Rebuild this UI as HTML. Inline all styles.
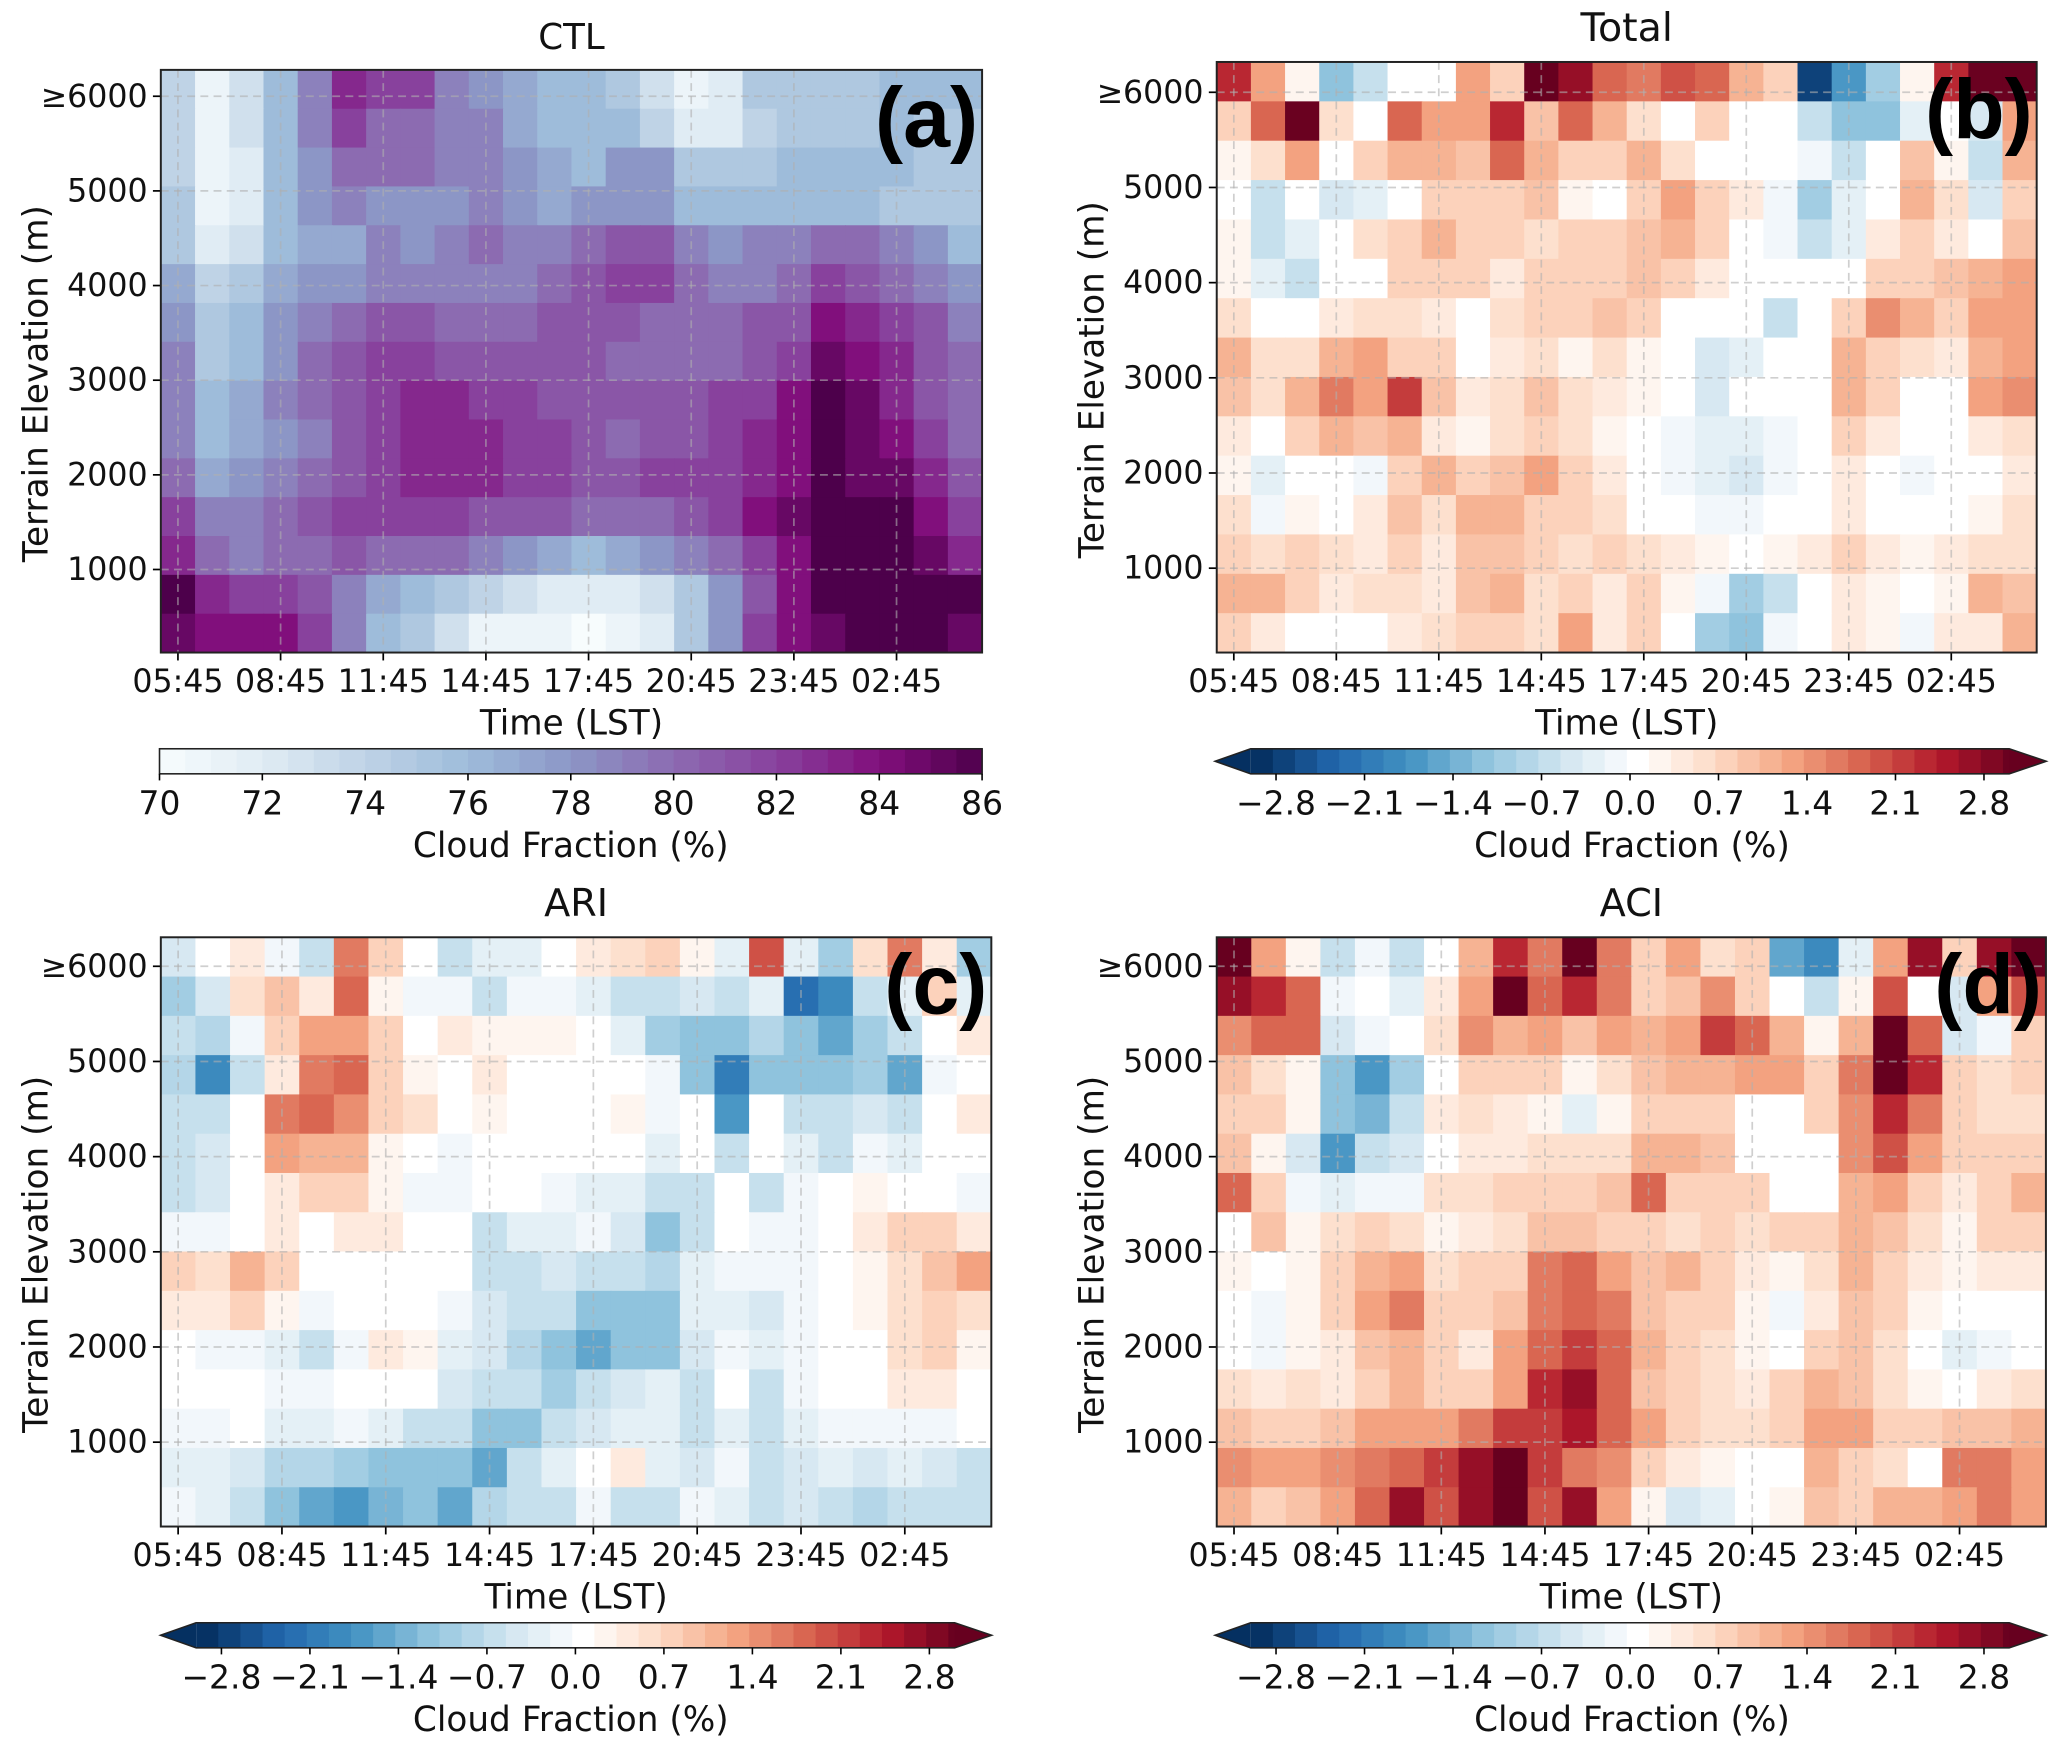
<!DOCTYPE html>
<html><head><meta charset="utf-8"><style>
html,body{margin:0;padding:0;background:#fff;}
svg{display:block;font-family:"DejaVu Sans","Liberation Sans",sans-serif;}
</style></head><body>
<svg id="fig" width="2067" height="1755" viewBox="0 0 1568 1331.3" xmlns="http://www.w3.org/2000/svg"></svg>
<script>
const timeLabels = ["05:45","08:45","11:45","14:45","17:45","20:45","23:45","02:45"];
const elevTickLabels = ["≥6000","5000","4000","3000","2000","1000"];
const elevTickValues = [6000,5000,4000,3000,2000,1000];
const ctlTicks = [70,72,74,76,78,80,82,84,86];
const diffTicks = [-2.8,-2.1,-1.4,-0.7,0.0,0.7,1.4,2.1,2.8];
const diffTickLabels = ["−2.8","−2.1","−1.4","−0.7","0.0","0.7","1.4","2.1","2.8"];

const ctlValues = [
[74,71,73,76,79,83,82,82,79,78,77,76,76,75,73,71,72,75,75,75,75,76,76,76],
[74,71,73,76,79,82,80,80,79,79,77,76,76,76,74,72,72,74,75,75,75,76,75,75],
[74,71,72,76,78,80,80,80,79,79,78,77,76,78,78,75,75,75,76,76,76,76,75,75],
[75,71,72,76,78,79,78,78,78,79,78,77,78,78,78,76,76,76,76,76,76,75,75,75],
[75,72,73,76,77,77,79,78,79,80,79,79,80,81,81,79,78,79,79,80,80,79,78,76],
[77,74,75,77,78,78,79,79,79,79,79,80,81,82,82,80,79,79,80,82,81,80,79,78],
[78,75,76,78,79,80,81,81,80,80,80,81,81,81,80,80,80,81,81,84,83,82,81,79],
[79,75,76,78,80,81,82,82,81,81,81,81,81,80,80,80,80,81,82,85,84,83,81,80],
[79,76,77,79,80,81,82,83,83,82,82,81,81,81,81,81,82,82,84,86,85,83,81,80],
[79,76,77,78,79,81,82,83,83,83,82,82,81,80,81,81,82,83,84,86,85,84,82,80],
[80,77,78,79,80,81,82,83,83,83,82,82,81,81,82,82,82,83,84,86,85,85,83,81],
[82,79,79,80,81,82,82,82,82,81,81,81,80,80,80,81,82,84,85,86,86,86,84,82],
[83,80,79,80,80,81,80,80,80,79,78,77,76,77,78,79,80,82,84,86,86,86,85,83],
[86,83,82,82,81,79,77,76,75,74,73,72,72,72,73,75,78,81,84,86,86,86,86,86],
[85,84,84,84,82,79,76,75,73,71,71,71,70,71,72,75,78,82,84,85,86,86,86,85]];

const totalValues = [
[1.8,1.0,0.2,-1.0,-0.6,0,0,0.9,0.6,2.5,2.0,1.4,1.2,1.5,1.3,0.8,0.6,-2.2,-1.3,-0.8,0.2,1.8,2.3,2.3],
[0.6,1.4,2.3,0.4,0,1.4,1.0,1.0,1.7,0.7,1.3,0.8,0.4,0,0.5,0,0,-0.5,-0.9,-1.0,-0.3,0,-0.4,1.0],
[0.2,0.4,1.0,0,0.5,0.8,0.8,0.7,1.3,0.8,0.6,0.5,0.8,0.4,0,0,0,-0.2,-0.6,0,0.7,0.2,-0.6,0.8],
[0,-0.5,0,-0.4,-0.3,0,0.5,0.5,0.6,0.7,0.2,0,0.5,0.9,0.5,0.3,-0.2,-0.8,-0.3,0,0.8,0.4,-0.4,0.6],
[0.2,-0.6,-0.3,0,0.4,0.5,0.8,0.6,0.5,0.4,0.5,0.6,0.7,0.8,0.5,0,-0.2,-0.6,-0.3,0.3,0.6,0.3,0,0.7],
[0.2,-0.3,-0.5,0,0,0.5,0.6,0.5,0.3,0.5,0.6,0.6,0.7,0.5,0.3,0,0,0,0,0.5,0.6,0.7,0.8,0.9],
[0.4,0,0,0.3,0.4,0.4,0.3,0,0.4,0.6,0.6,0.7,0.6,0,0,0,-0.5,0,0.5,1.1,0.8,0.5,0.9,1.0],
[0.8,0.4,0.4,0.8,0.9,0.6,0.5,0,0.3,0.4,0.2,0.4,0.2,0,-0.4,-0.3,0,0,0.8,0.6,0.4,0.3,0.8,1.0],
[0.7,0.4,0.8,1.2,0.9,1.6,0.7,0.3,0.4,0.7,0.4,0.3,0.2,0,-0.4,0,0,0,0.8,0.5,0,0,0.9,1.1],
[0.3,0,0.6,0.8,0.7,0.8,0.3,0.2,0.4,0.6,0.4,0.2,0,-0.2,-0.3,-0.3,-0.2,0,0.5,0.3,0,0,0.3,0.4],
[0.2,-0.3,0,0,-0.2,0.5,0.8,0.6,0.7,1.0,0.6,0.3,0,-0.2,-0.3,-0.4,-0.2,0,0.3,0,-0.2,0,0,0.3],
[0.4,-0.2,0.2,0,0.3,0.7,0.4,0.8,0.8,0.6,0.6,0.4,0,-0.1,-0.2,-0.2,0,0,0.3,0,0,0,0.2,0.4],
[0.6,0.4,0.5,0.4,0.3,0.5,0.3,0.7,0.7,0.6,0.4,0.6,0.4,0.3,0.2,0,0.2,0.3,0.5,0.3,0.2,0.3,0.4,0.4],
[0.8,0.8,0.6,0.3,0.4,0.4,0.3,0.7,0.8,0.4,0.6,0.3,0.6,0.2,-0.2,-0.8,-0.6,0,0.3,0.2,0,0.2,0.8,0.7],
[0.5,0.3,0,0,0,0.3,0.4,0.6,0.6,0.4,0.9,0.3,0.5,0,-0.8,-1.0,-0.2,0,0.3,0.2,-0.2,0.3,0.3,0.8]];

const ariValues = [
[-0.4,0,0.3,-0.2,-0.6,1.2,0.6,0,-0.6,-0.3,-0.3,0,0.3,0.4,0.5,0.2,-0.3,1.5,-0.3,-0.8,0.4,1.2,0.3,-0.8],
[-0.8,-0.4,0.4,0.7,0.3,1.4,0.2,-0.2,-0.2,-0.5,-0.2,-0.2,-0.3,-0.5,-0.6,-0.4,-0.6,-0.3,-1.8,-1.5,-0.5,-0.3,0.5,-0.3],
[-0.6,-0.7,-0.2,0.6,0.9,1.0,0.6,0,0.3,0.2,0.2,0.2,0.1,-0.3,-0.8,-0.9,-0.9,-0.7,-1.0,-1.2,-0.8,-0.6,0,0.3],
[-0.7,-1.5,-0.5,0.3,1.2,1.3,0.5,0.2,0.1,0.3,0,0.1,0,0,-0.2,-1.0,-1.6,-0.9,-1.0,-1.0,-0.8,-1.2,-0.2,0],
[-0.5,-0.5,0,1.2,1.3,1.1,0.6,0.4,0,0.2,0.1,0,0.1,0.2,-0.2,0,-1.3,0,-0.6,-0.5,-0.4,-0.6,0,0.3],
[-0.5,-0.4,0,1.0,0.8,0.8,0.2,0,-0.2,0,0,0,0,0,-0.3,0,-0.6,0,-0.3,-0.5,-0.2,-0.3,0,0],
[-0.6,-0.4,0,0.3,0.5,0.5,0.2,-0.2,-0.2,0,0.1,-0.2,-0.3,-0.3,-0.6,-0.5,0,-0.6,-0.2,0,0.2,0.1,0,-0.2],
[-0.2,-0.2,0.1,0.3,0.1,0.3,0.3,0.1,-0.1,-0.5,-0.3,-0.3,-0.2,-0.4,-1.0,-0.6,0,-0.2,-0.2,0,0.3,0.5,0.5,0.3],
[0.5,0.4,0.8,0.5,0,0,0.1,0,0,-0.6,-0.5,-0.4,-0.6,-0.6,-0.7,-0.3,-0.2,-0.2,-0.2,0.1,0.2,0.4,0.7,0.9],
[0.3,0.3,0.5,0.2,-0.2,-0.1,0,0,-0.2,-0.4,-0.5,-0.6,-1.0,-1.0,-0.9,-0.3,-0.3,-0.4,-0.2,0,0.2,0.4,0.6,0.4],
[-0.1,-0.2,-0.2,-0.3,-0.5,-0.2,0.3,0.2,-0.3,-0.4,-0.7,-0.9,-1.2,-0.9,-1.0,-0.4,-0.2,-0.3,-0.2,0,0,0.4,0.5,0.2],
[-0.1,-0.1,-0.1,-0.2,-0.2,0,0,0,-0.4,-0.6,-0.5,-0.8,-0.6,-0.4,-0.3,-0.5,0,-0.5,-0.2,0,0,0.3,0.3,0],
[-0.2,-0.2,-0.1,-0.3,-0.3,-0.2,-0.3,-0.5,-0.6,-1.0,-0.9,-0.5,-0.4,-0.3,-0.3,-0.5,-0.3,-0.5,-0.3,-0.2,-0.2,-0.2,-0.2,-0.1],
[-0.3,-0.3,-0.4,-0.7,-0.7,-0.8,-1.0,-0.9,-1.0,-1.2,-0.6,-0.3,0,0.3,-0.3,-0.4,-0.2,-0.6,-0.4,-0.3,-0.4,-0.3,-0.4,-0.5],
[-0.2,-0.3,-0.6,-0.9,-1.2,-1.4,-1.1,-0.9,-1.2,-0.7,-0.6,-0.5,-0.2,-0.5,-0.5,-0.2,-0.3,-0.6,-0.4,-0.6,-0.7,-0.5,-0.6,-0.5]];

const aciValues = [
[2.6,0.9,0.2,-0.6,-0.2,-0.5,0,0.8,1.7,1.2,2.5,1.2,0.6,1.0,0.4,0.6,-1.2,-1.5,-0.3,0.9,2.0,0.6,2.0,2.8],
[2.0,1.8,1.4,-0.2,0.1,-0.3,0.3,1.0,2.4,1.4,1.8,1.2,0.6,0.7,1.1,0.5,0,-0.6,0.2,1.5,0.1,-0.4,1.0,1.5],
[1.1,1.4,1.3,-0.4,-0.2,-0.1,0.4,1.1,0.8,0.9,0.7,0.9,0.8,0.9,1.6,1.3,0.8,0.2,0.8,2.4,1.3,-0.4,-0.2,0.5],
[0.7,0.4,0.2,-0.9,-1.4,-0.8,0,0.5,0.6,0.5,0.2,0.4,0.7,0.8,0.8,0.9,0.9,0.6,1.2,2.5,1.7,0.6,0.4,0.6],
[0.6,0.6,0.2,-0.9,-1.1,-0.6,0.3,0.4,0.3,0.2,-0.3,0.2,0.6,0.6,0.5,0,0,0.6,1.1,1.7,1.2,0.5,0.4,0.4],
[0.7,0.2,-0.4,-1.3,-0.6,-0.4,0,0.3,0.3,0.4,0.4,0.4,0.8,0.8,0.7,0,0,0,1.1,1.5,0.9,0.6,0.5,0.6],
[1.3,0.5,-0.2,-0.3,-0.2,-0.2,0.4,0.4,0.5,0.6,0.6,0.7,1.3,0.6,0.6,0.6,0,0,0.8,1.0,0.6,0.3,0.5,0.8],
[0,0.7,0.2,0.4,0.6,0.4,0.2,0.3,0.4,0.7,0.7,0.6,0.5,0.4,0.5,0.4,0.5,0.6,0.8,0.7,0.4,0.2,0.5,0.5],
[0.2,0.1,0.2,0.5,0.8,1.0,0.4,0.5,0.6,1.2,1.4,1.0,0.7,0.8,0.6,0.3,0.2,0.4,0.8,0.6,0.3,0.2,0.3,0.3],
[-0.1,-0.2,0.2,0.5,1.0,1.2,0.5,0.5,0.7,1.2,1.3,1.2,0.7,0.6,0.5,0.2,-0.2,0.3,0.7,0.5,0.2,0,0.1,-0.1],
[-0.1,-0.2,0.2,0.3,0.7,0.8,0.5,0.3,0.9,1.4,1.6,1.4,0.8,0.6,0.4,0.2,0.1,0.5,0.7,0.4,0.1,-0.3,-0.2,0.1],
[0.4,0.3,0.4,0.3,0.6,0.8,0.5,0.5,1.0,1.7,2.0,1.4,0.7,0.5,0.4,0.3,0.5,0.8,0.7,0.4,0.2,0.1,0.3,0.4],
[0.7,0.6,0.6,0.7,0.9,1.0,0.9,1.2,1.6,1.6,1.9,1.4,1.0,0.6,0.4,0.4,0.5,1.0,0.9,0.6,0.5,0.7,0.7,0.8],
[1.1,1.0,1.0,1.1,1.2,1.4,1.6,2.0,2.6,1.6,1.2,1.1,0.6,0.3,0.2,0,0,0.8,0.6,0.4,0,1.2,1.2,1.0],
[0.8,0.6,0.7,1.0,1.4,2.0,1.5,2.0,2.4,1.5,2.0,1.0,0.2,-0.4,-0.3,-0.1,0.2,0.7,0.6,0.8,0.8,1.0,1.2,1.0]];

const NS="http://www.w3.org/2000/svg";
const svg=document.getElementById('fig');
function mk(tag,attrs,parent){const e=document.createElementNS(NS,tag);for(const k in attrs)e.setAttribute(k,attrs[k]);(parent||svg).appendChild(e);return e;}
function hex(h){return [parseInt(h.slice(1,3),16),parseInt(h.slice(3,5),16),parseInt(h.slice(5,7),16)];}
function interp(stops,t){t=Math.max(0,Math.min(1,t));const n=stops.length-1;const p=t*n;const i=Math.min(n-1,Math.floor(p));const f=p-i;const a=hex(stops[i]),b=hex(stops[i+1]);return 'rgb('+a.map((v,k)=>Math.round(v+(b[k]-v)*f)).join(',')+')';}
const BUPU=["#f7fcfd","#e0ecf4","#bfd3e6","#9ebcda","#8c96c6","#8c6bb1","#88419d","#810f7c","#4d004b"];
const RDBU_R=["#053061","#2166ac","#4393c3","#92c5de","#d1e5f0","#ffffff","#fddbc7","#f4a582","#d6604d","#b2182b","#67001f"];
function ctlColor(v){const q=70+Math.round((v-70)/0.5)*0.5;return interp(BUPU,(q-70)/16);}
function diffScale(v){let q=Math.round(v/0.175)*0.175; if(Math.abs(v)<0.1) q=0; return interp(RDBU_R,(q+3)/6);}
function cellDiffColor(v){if(Math.abs(v)<0.15) return '#ffffff'; return diffScale(v*1.3);}

const panels=[
 {id:'a',title:'CTL',data:ctlValues,x0:122,x1:745,y0:53,y1:495,e6:73,e1:432,cmap:ctlColor,ylabX:27,tickX:112,ts:27},
 {id:'b',title:'Total',data:totalValues,x0:923,x1:1545,y0:47,y1:495,e6:70,e1:431,cmap:cellDiffColor,ylabX:828,tickX:913,ts:30},
 {id:'c',title:'ARI',data:ariValues,x0:122,x1:752,y0:711,y1:1158,e6:733,e1:1094,cmap:cellDiffColor,ylabX:27,tickX:112,ts:29},
 {id:'d',title:'ACI',data:aciValues,x0:923,x1:1552,y0:711,y1:1158,e6:733,e1:1094,cmap:cellDiffColor,ylabX:828,tickX:913,ts:29}
];

panels.forEach(p=>{
 const g=mk('g',{});
 
 
 const nr=p.data.length,nc=p.data[0].length;
 const cw=(p.x1-p.x0)/nc, rh=(p.y1-p.y0)/nr;
 const xOf=i=>p.x0+i*cw;
 const yOf=r=>p.y0+r*rh;
 const yElev=e=>p.e1-(e-1000)*(p.e1-p.e6)/5000;
 p.data.forEach((row,r)=>row.forEach((v,c)=>{
  const cell=mk('rect',{x:xOf(c).toFixed(2),y:yOf(r).toFixed(2),width:(cw+0.6).toFixed(2),height:(rh+0.6).toFixed(2),fill:p.cmap(v)},g);
  
  
 }));
 elevTickValues.forEach(e=>{
  const y=yElev(e);
  const l=mk('line',{x1:p.x0,x2:p.x1,y1:y,y2:y,stroke:'#b0b0b0','stroke-width':1.3,'stroke-dasharray':'6,4',opacity:0.6},g);
  
  
  const tk=mk('line',{x1:p.x0-6,x2:p.x0,y1:y,y2:y,stroke:'#000','stroke-width':1.3},g);
  
  
 });
 timeLabels.forEach((t,i)=>{
  const x=p.x0+(i*3+0.5)*cw;
  const l=mk('line',{x1:x,x2:x,y1:p.y0,y2:p.y1,stroke:'#b0b0b0','stroke-width':1.3,'stroke-dasharray':'6,4',opacity:0.6},g);
  
  
  const tk=mk('line',{x1:x,x2:x,y1:p.y1,y2:p.y1+6,stroke:'#000','stroke-width':1.3},g);
  
  
  const tx=mk('text',{x:x,y:p.y1+30,'font-size':24,'text-anchor':'middle',fill:'#111'},g);
  tx.textContent=t;
  
  
 });
 elevTickValues.forEach((e,i)=>{
  const tx=mk('text',{x:p.tickX,y:yElev(e)+8,'font-size':24,'text-anchor':'end',fill:'#111'},g);
  tx.textContent=elevTickLabels[i];
  
  
 });
 const fr=mk('rect',{x:p.x0,y:p.y0,width:p.x1-p.x0,height:p.y1-p.y0,fill:'none',stroke:'#222','stroke-width':1.5},g);
 
 
 const ti=mk('text',{x:(p.x0+p.x1)/2,y:p.y0-16,'font-size':p.ts,'text-anchor':'middle',fill:'#111'},g);
 ti.textContent=p.title;
 
 
 const pl=mk('text',{x:p.x1-3,y:p.y0+58,'font-size':64,'font-weight':'bold','text-anchor':'end',fill:'#000','font-family':'"Liberation Sans",sans-serif'},g);
 pl.textContent='('+p.id+')';
 
 
 const xl=mk('text',{x:(p.x0+p.x1)/2,y:p.y1+62,'font-size':26,'text-anchor':'middle',fill:'#111'},g);
 xl.textContent='Time (LST)';
 
 
 const yc=(p.y0+p.y1)/2+8;
 const yl=mk('text',{x:p.ylabX,y:yc,'font-size':26,'text-anchor':'middle',fill:'#111',transform:'rotate(-90 '+(p.ylabX+9)+' '+yc+')'},g);
 yl.textContent='Terrain Elevation (m)';
 
 

 const cb=mk('g',{});
 
 
 const cy0=p.y1+73, ch=19;
 if(p.id==='a'){
  const bx0=121,bx1=745; const cx=v=>bx0+(v-70)/16*(bx1-bx0);
  for(let v=70;v<86;v+=0.5){
   const s=mk('rect',{x:cx(v),y:cy0,width:cx(v+0.5)-cx(v)+0.5,height:ch,fill:interp(BUPU,(v+0.25-70)/16)},cb);
   
   
  }
  mk('rect',{x:bx0,y:cy0,width:bx1-bx0,height:ch,fill:'none',stroke:'#222','stroke-width':1.2},cb);
  ctlTicks.forEach(v=>{
   mk('line',{x1:cx(v),x2:cx(v),y1:cy0+ch,y2:cy0+ch+5,stroke:'#000','stroke-width':1.2},cb);
   const t=mk('text',{x:cx(v),y:cy0+ch+31,'font-size':25,'text-anchor':'middle',fill:'#111'},cb);
   t.textContent=String(v);
   
   
  });
 } else {
  const center=(p.id==='c')?436.5:1236.5, ppu=95.9;
  const cx=v=>center+v*ppu;
  const bx0=cx(-3),bx1=cx(3);
  const step=0.175;
  for(let v=-3;v<3-1e-9;v+=step){
   const s=mk('rect',{x:cx(v),y:cy0,width:Math.min(cx(v+step),bx1)-cx(v)+0.5,height:ch,fill:diffScale(v+step/2)},cb);
   
   
  }
  const lt=mk('polygon',{points:bx0+','+cy0+' '+(bx0-27)+','+(cy0+ch/2)+' '+bx0+','+(cy0+ch),fill:'#053061'},cb);
  
  
  const rt=mk('polygon',{points:bx1+','+cy0+' '+(bx1+28)+','+(cy0+ch/2)+' '+bx1+','+(cy0+ch),fill:'#67001f'},cb);
  
  
  mk('polygon',{points:bx0+','+cy0+' '+(bx0-27)+','+(cy0+ch/2)+' '+bx0+','+(cy0+ch)+' '+bx1+','+(cy0+ch)+' '+(bx1+28)+','+(cy0+ch/2)+' '+bx1+','+cy0,fill:'none',stroke:'#222','stroke-width':1.2},cb);
  diffTicks.forEach((v,i)=>{
   mk('line',{x1:cx(v),x2:cx(v),y1:cy0+ch,y2:cy0+ch+5,stroke:'#000','stroke-width':1.2},cb);
   const t=mk('text',{x:cx(v),y:cy0+ch+31,'font-size':25,'text-anchor':'middle',fill:'#111'},cb);
   t.textContent=diffTickLabels[i];
   
   
  });
 }
 const cl=mk('text',{x:(p.id==='a'||p.id==='c')?433:1238,y:cy0+ch+63,'font-size':26,'text-anchor':'middle',fill:'#111'},cb);
 cl.textContent='Cloud Fraction (%)';
 
 
});
</script>
</body></html>
